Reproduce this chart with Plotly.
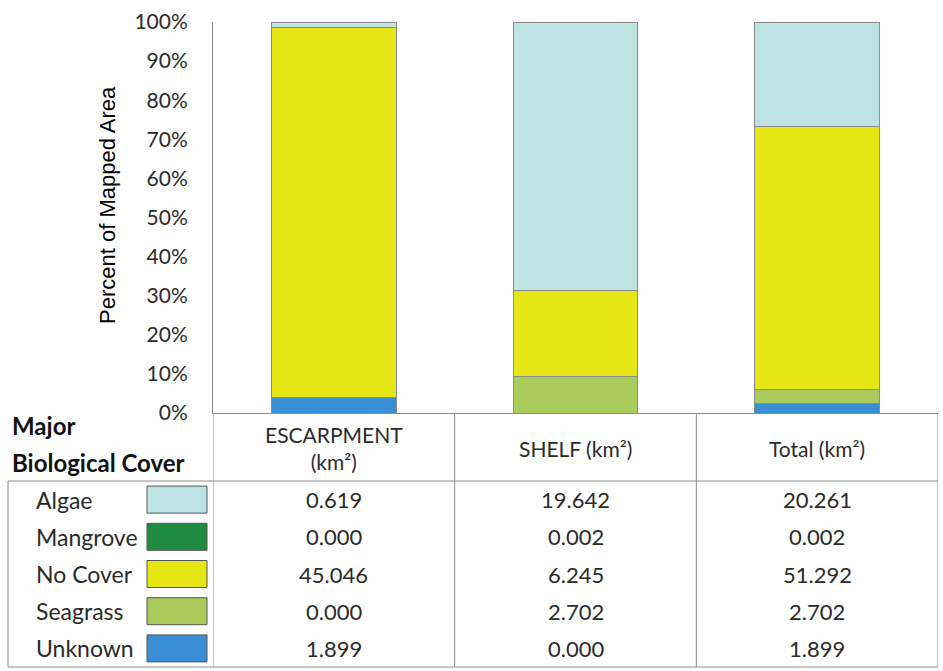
import plotly.graph_objects as go

# Mapped area (km²) of each major biological cover class, by zone
zones = ["ESCARPMENT", "SHELF", "Total"]
zone_headers = ["ESCARPMENT<br>(km²)", "SHELF (km²)", "Total (km²)"]
covers = ["Algae", "Mangrove", "No Cover", "Seagrass", "Unknown"]
algae = [0.619, 19.642, 20.261]
mangrove = [0.000, 0.002, 0.002]
no_cover = [45.046, 6.245, 51.292]
seagrass = [0.000, 2.702, 2.702]
unknown = [1.899, 0.000, 1.899]
colors = ["#BEE3E3", "#1E8B3E", "#E6E614", "#A8CB5C", "#3A8ED5"]
y_ticks = [0, 10, 20, 30, 40, 50, 60, 70, 80, 90, 100]

values = dict(zip(covers, [algae, mangrove, no_cover, seagrass, unknown]))
color_of = dict(zip(covers, colors))

# Page geometry (pixels) of the plot area
W_PAGE, H_PAGE = 943, 671
L, R, T, B = 213, 938, 22, 413
PW, PH = R - L, B - T


def px(x):
    return (x - L) / PW


def py(y):
    return (B - y) / PH


BODY_FONT = "Lato, 'Open Sans', sans-serif"
TEXT_COLOR = "#2B2B2B"
LINE_COLOR = "#8C8C8C"

fig = go.Figure()

# Stack from the bottom up: Unknown, Seagrass, No Cover, Mangrove, Algae
for name in ["Unknown", "Seagrass", "No Cover", "Mangrove", "Algae"]:
    fig.add_trace(go.Bar(
        x=zones, y=values[name], name=name,
        marker=dict(color=color_of[name], line=dict(color=LINE_COLOR, width=1)),
        hoverinfo="x+y+name",
    ))

shapes = []
annotations = []

# Data-table grid below the bars
TABLE_TOP, HEADER_BOTTOM, TABLE_BOTTOM = 413, 481, 667
LEG_LEFT = 8
for xb in [-0.5, 0.5, 1.5, 2.5]:
    shapes.append(dict(type="line", xref="x", yref="paper", x0=xb, x1=xb,
                       y0=py(TABLE_TOP), y1=py(TABLE_BOTTOM),
                       line=dict(color=LINE_COLOR, width=1)))
for yl in [HEADER_BOTTOM, TABLE_BOTTOM]:
    shapes.append(dict(type="line", xref="paper", yref="paper",
                       x0=px(LEG_LEFT), x1=1, y0=py(yl), y1=py(yl),
                       line=dict(color=LINE_COLOR, width=1)))
shapes.append(dict(type="line", xref="paper", yref="paper",
                   x0=px(LEG_LEFT), x1=px(LEG_LEFT),
                   y0=py(HEADER_BOTTOM), y1=py(TABLE_BOTTOM),
                   line=dict(color=LINE_COLOR, width=1)))

# Column headers
for zone, head in zip(zones, zone_headers):
    annotations.append(dict(x=zone, xref="x", y=py((TABLE_TOP + HEADER_BOTTOM) / 2 + 1),
                            yref="paper", text=head, showarrow=False,
                            xanchor="center", yanchor="middle",
                            font=dict(family=BODY_FONT, size=21, color=TEXT_COLOR)))

# Row-header block title
for line_text, yc in [("Major", 425), ("Biological Cover", 462)]:
    annotations.append(dict(x=px(10), xref="paper", y=py(yc), yref="paper",
                            text=f"<b>{line_text}</b>", showarrow=False,
                            xanchor="left", yanchor="middle", align="left",
                            font=dict(family=BODY_FONT, size=24, color="#111111")))

# Rows: legend label, swatch and one value per zone
row_h = (TABLE_BOTTOM - HEADER_BOTTOM) / len(covers)
for i, name in enumerate(covers):
    yc = HEADER_BOTTOM + row_h * (i + 0.5)
    annotations.append(dict(x=px(34), xref="paper", y=py(yc), yref="paper",
                            text=name, showarrow=False, xanchor="left",
                            yanchor="middle",
                            font=dict(family=BODY_FONT, size=23, color=TEXT_COLOR)))
    shapes.append(dict(type="rect", xref="paper", yref="paper",
                       x0=px(147), x1=px(207), y0=py(yc - 13.5), y1=py(yc + 13.5),
                       fillcolor=color_of[name], line=dict(color="#555555", width=1)))
    for zone, v in zip(zones, values[name]):
        annotations.append(dict(x=zone, xref="x", y=py(yc), yref="paper",
                                text=f"{v:.3f}", showarrow=False,
                                xanchor="center", yanchor="middle",
                                font=dict(family=BODY_FONT, size=22, color=TEXT_COLOR)))

# Y-axis title
annotations.append(dict(x=px(108), xref="paper", y=py(205), yref="paper",
                        text="Percent of Mapped Area", textangle=-90,
                        showarrow=False, xanchor="center", yanchor="middle",
                        font=dict(family="'Liberation Sans', Arial, sans-serif",
                                  size=22, color="#000000")))

fig.update_layout(
    width=W_PAGE, height=H_PAGE,
    margin=dict(l=L, r=W_PAGE - R, t=T, b=H_PAGE - B, pad=0),
    barmode="stack", barnorm="percent", bargap=0.483,
    plot_bgcolor="white", paper_bgcolor="white",
    showlegend=False,
    shapes=shapes, annotations=annotations,
    xaxis=dict(range=[-0.5, 2.5], showticklabels=False, ticks="",
               showgrid=False, zeroline=False, showline=True,
               linecolor=LINE_COLOR, linewidth=1),
    yaxis=dict(range=[0, 100], tickvals=y_ticks,
               ticktext=[f"{t}%" for t in y_ticks], ticks="",
               ticklabelstandoff=20, showgrid=False, zeroline=False,
               showline=True, linecolor=LINE_COLOR, linewidth=1,
               tickfont=dict(family=BODY_FONT, size=21, color=TEXT_COLOR)),
)

fig.write_html("out.html")
